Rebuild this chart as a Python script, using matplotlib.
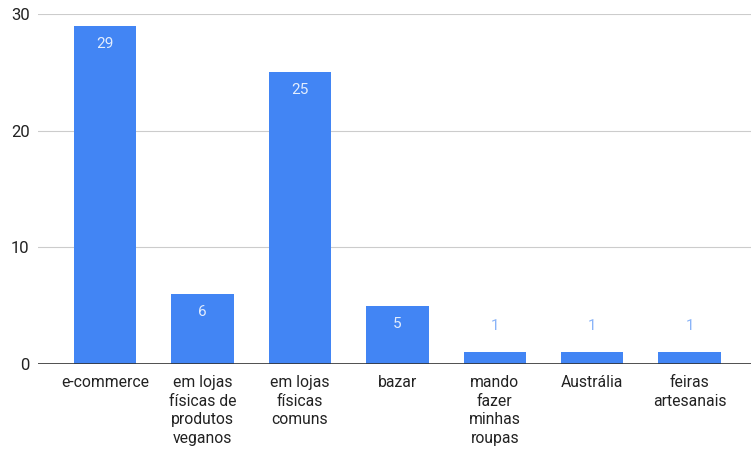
import matplotlib
matplotlib.use("Agg")
import matplotlib.pyplot as plt

categories = ["e-commerce", "em lojas\nfísicas de\nprodutos\nveganos", "em lojas\nfísicas\ncomuns",
              "bazar", "mando\nfazer\nminhas\nroupas", "Austrália", "feiras\nartesanais"]
values = [29, 6, 25, 5, 1, 1, 1]
yticks = [0, 10, 20, 30]

plt.rcParams['font.family'] = ['Roboto', 'DejaVu Sans']
fig = plt.figure(figsize=(7.51, 4.53), dpi=100)
ax = fig.add_axes([0.0506, 0.1965, 0.9494, 0.7725])

x = list(range(len(categories)))
bars = ax.bar(x, values, width=0.64, color="#4285F4", zorder=3)
for xi, v in zip(x, values):
    if v >= 3:
        ax.annotate(str(v), (xi, v), xytext=(0, -8), textcoords="offset points",
                    ha="center", va="top", fontsize=11, color="#e3edfd", zorder=4)
    else:
        ax.annotate(str(v), (xi, v), xytext=(0, 14), textcoords="offset points",
                    ha="center", va="bottom", fontsize=11, color="#8ab4f8", zorder=4)

ax.set_xlim(-0.69, 6.63)
ax.set_ylim(0, 30)
ax.set_yticks(yticks)
ax.grid(axis="y", color="#cccccc", linewidth=0.8, zorder=0)
ax.axhline(0, color="#333333", linewidth=1.2, zorder=4)
for s in ax.spines.values():
    s.set_visible(False)
ax.set_xticks(x)
ax.set_xticklabels(categories, fontsize=11.3, color="#222222", linespacing=1.3, va="top")
ax.tick_params(axis="x", length=0, pad=8)
ax.tick_params(axis="y", length=0, pad=6, labelsize=12, labelcolor="#222222")
fig.savefig("out.png", dpi=100)
